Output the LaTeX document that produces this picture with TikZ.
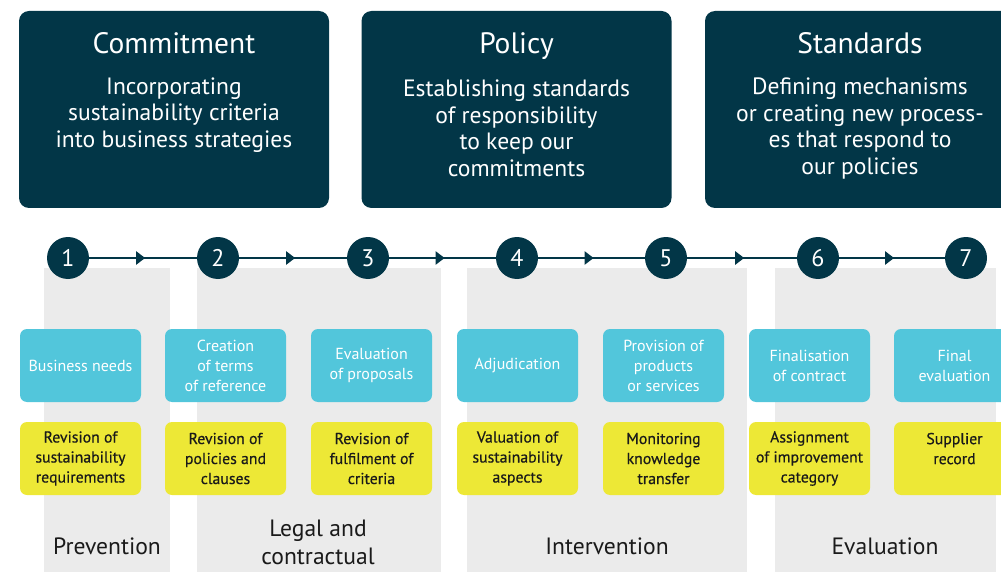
\documentclass[tikz,border=0pt]{standalone}
\usepackage{fontspec}
\setmainfont{PT Sans}
\newfontfamily\yellowfont[FakeBold=0.5]{PT Sans}
\usetikzlibrary{arrows.meta,decorations.markings}
\definecolor{navy}{RGB}{2,54,71}
\definecolor{cyanbox}{RGB}{82,198,219}
\definecolor{yellowbox}{RGB}{237,232,54}
\definecolor{panelgray}{RGB}{235,235,235}
\definecolor{labeltext}{RGB}{26,26,26}
\tikzset{
  topbox/.style={fill=navy, rounded corners=10pt, minimum width=310pt, minimum height=197pt, inner sep=0pt},
  toptitle/.style={text=white, anchor=base, font=\fontsize{29.5}{32}\selectfont},
  topsub/.style={text=white, align=center, font=\fontsize{23.6}{26.5}\selectfont},
  stepcircle/.style={circle, fill=navy, minimum size=42pt, inner sep=0pt, text=white, font=\fontsize{24}{24}\selectfont},
  panel/.style={fill=panelgray, draw=none},
  cyanstep/.style={fill=cyanbox, rounded corners=7pt, minimum width=121pt, minimum height=73pt, inner sep=0pt, text=white, align=center, font=\fontsize{16}{20}\selectfont},
  yellowstep/.style={fill=yellowbox, rounded corners=7pt, minimum width=121pt, minimum height=73pt, inner sep=0pt, text=labeltext, align=center, font=\yellowfont\fontsize{15.8}{20}\selectfont},
  phase/.style={text=labeltext, align=center, font=\fontsize{23.6}{28}\selectfont},
  flow/.style={draw=navy, line width=2.4pt, postaction={decorate}, decoration={markings, mark=at position 0.52 with {\arrow{Triangle[length=9pt,width=13pt]}}}},
}
\begin{document}
\begin{tikzpicture}[x=1pt,y=-1pt]
\useasboundingbox (0,0) rectangle (1001,572);
\clip (0,0) rectangle (1001,572);
% top boxes
\node[topbox] (b1) at (174,109.5) {};
\node[topbox] (b2) at (516.5,109.5) {};
\node[topbox] (b3) at (860,109.5) {};
\node[toptitle] (t1) at (174,54) {Commitment};
\node[toptitle] (t2) at (516.5,54) {Policy};
\node[toptitle] (t3) at (860,54) {Standards};
\node[topsub] (s1) at (174,115) {Incorporating\\sustainability criteria\\into business strategies};
\node[topsub] (s2) at (516.5,128.5) {Establishing standards\\of responsibility\\to keep our\\commitments};
\node[topsub] (s3) at (860,128.5) {Defining mechanisms\\or creating new process-\\es that respond to\\our policies};
% panels
\fill[panel] (44,268) rectangle (170,580);
\fill[panel] (197,268) rectangle (441,580);
\fill[panel] (467,268) rectangle (747,580);
\fill[panel] (775,268) rectangle (996,580);
% circles
\node[stepcircle] (c1) at (68,258) {1};
\node[stepcircle] (c2) at (218,258) {2};
\node[stepcircle] (c3) at (368,258) {3};
\node[stepcircle] (c4) at (517,258) {4};
\node[stepcircle] (c5) at (666,258) {5};
\node[stepcircle] (c6) at (818,258) {6};
\node[stepcircle] (c7) at (966,258) {7};
\foreach \a/\b in {c1/c2,c2/c3,c3/c4,c4/c5,c5/c6,c6/c7}
  \draw[flow] (\a) -- (\b);
% cyan boxes
\node[cyanstep] (k1) at (80.5,365.5) {Business needs};
\node[cyanstep] (k2) at (225.5,365.5) {Creation\\of terms\\of reference};
\node[cyanstep] (k3) at (371.5,365.5) {Evaluation\\of proposals};
\node[cyanstep] (k4) at (517.5,365.5) {Adjudication};
\node[cyanstep] (k5) at (663.5,365.5) {Provision of\\products\\or services};
\node[cyanstep] (k6) at (809.5,365.5) {Finalisation\\of contract};
\node[cyanstep] (k7) at (954.5,365.5) {Final\\evaluation};
% yellow boxes
\node[yellowstep] (y1) at (80.5,458.5) {Revision of\\sustainability\\requirements};
\node[yellowstep] (y2) at (225.5,458.5) {Revision of\\policies and\\clauses};
\node[yellowstep] (y3) at (371.5,458.5) {Revision of\\fulfilment of\\criteria};
\node[yellowstep] (y4) at (517.5,458.5) {Valuation of\\sustainability\\aspects};
\node[yellowstep] (y5) at (663.5,458.5) {Monitoring\\knowledge\\transfer};
\node[yellowstep] (y6) at (809.5,458.5) {Assignment\\of improvement\\category};
\node[yellowstep] (y7) at (954.5,458.5) {Supplier\\record\\\phantom{x}};
% phase labels
\node[phase] (p1) at (107,546) {Prevention};
\node[phase] (p2) at (318,542) {Legal and\\contractual};
\node[phase] (p3) at (607,546) {Intervention};
\node[phase] (p4) at (885,546) {Evaluation};
\end{tikzpicture}
\end{document}
